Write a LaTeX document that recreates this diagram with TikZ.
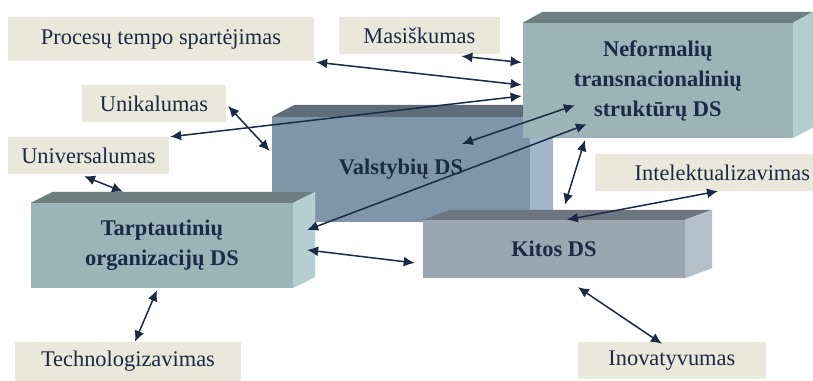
\documentclass[tikz,border=0pt]{standalone}
\usepackage{fontspec}
\setmainfont{Liberation Serif}
\usetikzlibrary{arrows.meta,calc}

\definecolor{ink}{HTML}{1B2A45}
\definecolor{labelbg}{HTML}{EAE7DB}
% front / top / side shades of the four prisms
\definecolor{neoF}{HTML}{9EB3B7}\definecolor{neoT}{HTML}{6E7F84}\definecolor{neoS}{HTML}{B5CDD1}
\definecolor{valF}{HTML}{8195A9}\definecolor{valT}{HTML}{5F6D7A}\definecolor{valS}{HTML}{A3B6CC}
\definecolor{tarF}{HTML}{9CB3B8}\definecolor{tarT}{HTML}{6E7D7E}\definecolor{tarS}{HTML}{B5CFD3}
\definecolor{kitF}{HTML}{9AA6B0}\definecolor{kitT}{HTML}{6C7680}\definecolor{kitS}{HTML}{B3BFC9}

\tikzset{
  lbl/.style={fill=labelbg, inner sep=0, text=ink, minimum height=37,
              font=\fontsize{22.4}{26}\selectfont},
  prism/.style={inner sep=0, text=ink, align=center,
                font=\fontsize{22.4}{30}\selectfont\bfseries},
  link/.style={draw=ink, line width=1.5pt,
               {Latex[length=11pt,width=10pt]}-{Latex[length=11pt,width=10pt]}}
}

% top and side faces of a prism whose front face is node #1, depth (#2,#3)
\newcommand\prismfaces[5]{%
  \fill[#4] (#1.north west) -- ([shift={(#2,#3)}]#1.north west)
        -- ([shift={(#2,#3)}]#1.north east) -- (#1.north east) -- cycle;
  \fill[#5] (#1.north east) -- ([shift={(#2,#3)}]#1.north east)
        -- ([shift={(#2,#3)}]#1.south east) -- (#1.south east) -- cycle;
}

\begin{document}
\begin{tikzpicture}[x=1pt,y=-1pt]
\fill[white] (0,0) rectangle (813,381);

% property labels
\node[lbl, minimum width=306, minimum height=44] (proc) at (161,39) {Procesų tempo spartėjimas\hspace{8pt}};
\node[lbl, minimum width=161] (masi) at (419.5,35.5) {Masiškumas};
\node[lbl, minimum width=144] (unik) at (154,103.5) {Unikalumas};
\node[lbl, minimum width=161] (univ) at (88.5,155.5) {Universalumas};
\node[lbl, anchor=west, text width=212, inner xsep=3, align=right] (intel) at (595,172.5) {Intelektualizavimas};
\node[lbl, minimum width=226, minimum height=39] (tech) at (128,361.5) {Technologizavimas};
\node[lbl, minimum width=188] (inov) at (672,360.5) {Inovatyvumas};

% prisms, back to front
\node[prism, fill=valF, minimum width=258, minimum height=105] (vals) at (401,169.5) {Valstybių DS};
\prismfaces{vals}{23}{-12}{valT}{valS}

\node[prism, fill=neoF, minimum width=270, minimum height=115] (neo) at (658,80.5)
  {Neformalių\\transnacionalinių\\struktūrų DS};
\prismfaces{neo}{20}{-11}{neoT}{neoS}

\node[prism, fill=tarF, minimum width=262, minimum height=85] (tarp) at (162,245.5)
  {Tarptautinių\\organizacijų DS};
\prismfaces{tarp}{22}{-11}{tarT}{tarS}

\node[prism, fill=kitF, minimum width=262, minimum height=58] (kitos) at (554,249) {Kitos DS};
\prismfaces{kitos}{27}{-10}{kitT}{kitS}

% links
\draw[link] ([shift={(42,2)}]masi.south) -- ([shift={(-1,-18)}]neo.west);
\draw[link] ([shift={(2,1)}]proc.south east) -- ([shift={(-1,4.5)}]neo.west);
\draw[link] ([shift={(1,0)}]univ.north east) -- ([shift={(-1,15.5)}]neo.west);
\draw[link] ([shift={(2,2.5)}]unik.east) -- ([shift={(-2,-18.5)}]vals.west);
\draw[link] ([shift={(-4.5,2)}]univ.south) -- ([shift={(-39,-11)}]tarp.north);
\draw[link] ([shift={(61,-25.5)}]vals.center) -- ([shift={(-83,-33)}]neo.south);
\draw[link] ([shift={(14,-15.5)}]tarp.east) -- ([shift={(-71,-14)}]neo.south);
\draw[link] ([shift={(11,-15)}]kitos.north) -- ([shift={(-73,2)}]neo.south);
\draw[link] ([shift={(14,4.5)}]tarp.east) -- ([shift={(-8,14)}]kitos.west);
\draw[link] ([shift={(-5,2)}]tarp.south) -- ([shift={(7,0)}]tech.north);
\draw[link] ([shift={(13,0)}]kitos.north) -- ([shift={(14,0)}]intel.south);
\draw[link] ([shift={(24,9)}]kitos.south) -- ([shift={(-10,2)}]inov.north);
\end{tikzpicture}
\end{document}
